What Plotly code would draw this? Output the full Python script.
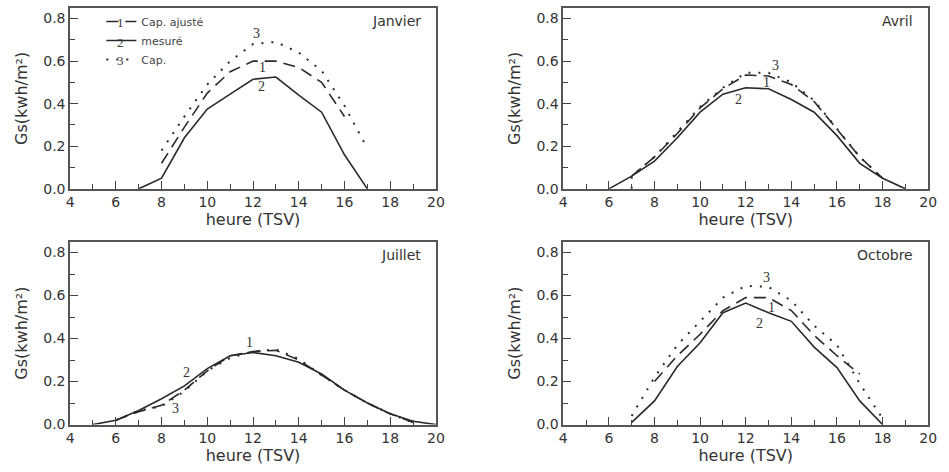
import plotly.graph_objects as go

# === données (Gs en kWh/m², heure en TSV) ===
mois = ["Janvier", "Avril", "Juillet", "Octobre"]

# Janvier
jan_h_mes = [7, 8, 9, 10, 11, 12, 13, 14, 15, 16, 17]
jan_mes = [0.0, 0.05, 0.24, 0.375, 0.445, 0.515, 0.525, 0.44, 0.36, 0.16, 0.0]
jan_h_aj = [8, 9, 10, 11, 12, 13, 14, 15, 16]
jan_aj = [0.12, 0.29, 0.45, 0.55, 0.6, 0.6, 0.57, 0.5, 0.34]
jan_h_cap = [8, 9, 10, 11, 12, 13, 14, 15, 16, 17]
jan_cap = [0.18, 0.34, 0.49, 0.6, 0.68, 0.69, 0.64, 0.555, 0.39, 0.19]

# Avril
avr_h_mes = [6, 7, 8, 9, 10, 11, 12, 13, 14, 15, 16, 17, 18, 19]
avr_mes = [0.0, 0.06, 0.13, 0.24, 0.36, 0.445, 0.475, 0.47, 0.42, 0.36, 0.25, 0.12, 0.05, 0.0]
avr_h_aj = [7, 8, 9, 10, 11, 12, 13, 14, 15, 16, 17, 18]
avr_aj = [0.06, 0.15, 0.26, 0.38, 0.47, 0.535, 0.53, 0.49, 0.41, 0.28, 0.15, 0.05]
avr_h_cap = [7, 7, 8, 9, 10, 11, 12, 13, 14, 15, 16, 17, 18]
avr_cap = [0.0, 0.06, 0.15, 0.265, 0.385, 0.475, 0.545, 0.545, 0.5, 0.415, 0.285, 0.15, 0.05]

# Juillet
jui_h_mes = [5, 6, 7, 8, 9, 10, 11, 12, 13, 14, 15, 16, 17, 18, 19, 20]
jui_mes = [0.0, 0.02, 0.065, 0.12, 0.18, 0.26, 0.32, 0.335, 0.32, 0.29, 0.235, 0.16, 0.1, 0.05, 0.015, 0.0]
jui_h_aj = [6, 7, 8, 9, 10, 11, 12, 13, 14, 15, 16, 17, 18, 19]
jui_aj = [0.02, 0.06, 0.09, 0.16, 0.25, 0.32, 0.34, 0.345, 0.3, 0.23, 0.16, 0.1, 0.05, 0.01]
jui_h_cap = [6, 7, 8, 9, 10, 11, 12, 13, 14, 15, 16, 17, 18, 19]
jui_cap = [0.02, 0.065, 0.085, 0.155, 0.25, 0.31, 0.34, 0.35, 0.305, 0.23, 0.16, 0.1, 0.05, 0.01]

# Octobre
oct_h_mes = [7, 8, 9, 10, 11, 12, 13, 14, 15, 16, 17, 18]
oct_mes = [0.01, 0.11, 0.27, 0.38, 0.52, 0.565, 0.52, 0.48, 0.36, 0.265, 0.11, 0.0]
oct_h_aj = [8, 9, 10, 11, 12, 13, 14, 15, 16, 17]
oct_aj = [0.2, 0.32, 0.42, 0.53, 0.59, 0.59, 0.53, 0.415, 0.32, 0.235]
oct_h_cap = [7, 8, 9, 10, 11, 12, 13, 14, 15, 16, 17, 18]
oct_cap = [0.04, 0.22, 0.37, 0.48, 0.59, 0.645, 0.64, 0.576, 0.46, 0.37, 0.19, 0.028]

# positions des repères 1, 2, 3 sur chaque courbe (x, y)
reperes = {
    "Janvier": [(12.4, 0.57), (12.36, 0.48), (12.14, 0.73)],
    "Avril": [(12.92, 0.5), (11.68, 0.418), (13.3, 0.58)],
    "Juillet": [(11.85, 0.38), (9.1, 0.24), (8.6, 0.077)],
    "Octobre": [(13.15, 0.545), (12.6, 0.47), (12.9, 0.684)],
}

series = {
    "Janvier": (jan_h_aj, jan_aj, jan_h_mes, jan_mes, jan_h_cap, jan_cap),
    "Avril": (avr_h_aj, avr_aj, avr_h_mes, avr_mes, avr_h_cap, avr_cap),
    "Juillet": (jui_h_aj, jui_aj, jui_h_mes, jui_mes, jui_h_cap, jui_cap),
    "Octobre": (oct_h_aj, oct_aj, oct_h_mes, oct_mes, oct_h_cap, oct_cap),
}

noms = ["Cap. ajusté", "mesuré", "Cap."]
styles = [dict(color="#2a2a2a", width=1.6, dash="12px,7px"),
          dict(color="#2a2a2a", width=1.6),
          dict(color="#2a2a2a", width=2, dash="2px,8px")]

# domaines des 4 panneaux (papier)
dom_x = [[0.0706, 0.4615], [0.5975, 0.9874], [0.0706, 0.4615], [0.5975, 0.9874]]
dom_y = [[0.593, 0.983], [0.593, 0.983], [0.085, 0.479], [0.085, 0.479]]

fig = go.Figure()
police = "DejaVu Sans, Arial, sans-serif"
serif = "Liberation Serif, Times New Roman, serif"

for i, m in enumerate(mois):
    xa = "x" if i == 0 else "x%d" % (i + 1)
    ya = "y" if i == 0 else "y%d" % (i + 1)
    s = series[m]
    for k in range(3):
        fig.add_trace(go.Scatter(
            x=s[2 * k], y=s[2 * k + 1], mode="lines", name=noms[k],
            line=styles[k], xaxis=xa, yaxis=ya, showlegend=(i == 0)))
    for k, (px, py) in enumerate(reperes[m]):
        fig.add_annotation(x=px, y=py, xref=xa, yref=ya, text=str(k + 1),
                           showarrow=False, font=dict(family=serif, size=14, color="#333333"))
    fig.add_annotation(x=0.965, y=0.925, xref=xa + " domain", yref=ya + " domain",
                       text=m, showarrow=False, xanchor="right", yanchor="middle",
                       font=dict(family=police, size=14, color="#333"))

    axe_x = dict(domain=dom_x[i], range=[4, 20], tick0=4, dtick=2, ticks="inside",
                 ticklen=8, tickcolor="#444", showline=True, mirror=True,
                 linecolor="#555", linewidth=1.5, showgrid=False, zeroline=False,
                 minor=dict(dtick=1, ticks="inside", ticklen=5, tickcolor="#444"),
                 tickfont=dict(family=police, size=14, color="#333"),
                 ticklabeloverflow="allow",
                 title=dict(text="heure (TSV)", standoff=0,
                            font=dict(family=police, size=16, color="#333")),
                 anchor=ya)
    axe_y = dict(domain=dom_y[i], range=[0, 0.85], tick0=0, dtick=0.2, tickformat=".1f",
                 ticks="inside", ticklen=8, tickcolor="#444", showline=True, mirror=True,
                 linecolor="#555", linewidth=1.5, showgrid=False, zeroline=False,
                 minor=dict(dtick=0.1, ticks="inside", ticklen=5, tickcolor="#444"),
                 tickfont=dict(family=police, size=14, color="#333"),
                 title=dict(text="Gs(kwh/m²)", standoff=12,
                            font=dict(family=police, size=16, color="#333")),
                 anchor=xa)
    fig.layout["xaxis" if i == 0 else "xaxis%d" % (i + 1)] = axe_x
    fig.layout["yaxis" if i == 0 else "yaxis%d" % (i + 1)] = axe_y

# numéros posés sur les traits de la légende
for k, yy in enumerate([0.951, 0.909, 0.869]):
    fig.add_annotation(x=0.124, y=yy, xref="paper", yref="paper", text=str(k + 1),
                       xanchor="center", yanchor="middle",
                       showarrow=False, font=dict(family=serif, size=13, color="#333333"))

fig.update_layout(
    width=949, height=472,
    margin=dict(l=0, r=0, t=0, b=0),
    paper_bgcolor="white", plot_bgcolor="white",
    font=dict(family=police, color="#333"),
    legend=dict(x=0.104, y=0.985, xanchor="left", yanchor="top",
                bgcolor="rgba(0,0,0,0)", font=dict(size=11, color="#444"),
                tracegroupgap=0, itemwidth=30),
)

fig.write_html("out.html", config={"displayModeBar": False},
               post_script="document.body.style.margin='0';")
